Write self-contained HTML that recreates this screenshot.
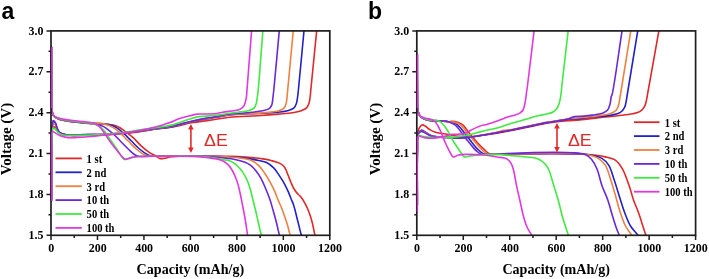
<!DOCTYPE html>
<html><head><meta charset="utf-8"><style>
html,body{margin:0;padding:0;background:#fff;}
body{width:709px;height:279px;overflow:hidden;}
svg{display:block;filter:blur(0.3px);}
</style></head><body>
<svg width="709" height="279" viewBox="0 0 709 279">
<clipPath id="clipa"><rect x="50.00" y="30.90" width="279.80" height="204.40"/></clipPath>
<g clip-path="url(#clipa)" fill="none" stroke-width="1.6" stroke-linejoin="round" stroke-linecap="round">
<path d="M51.50 47.30C51.53 61.53 51.47 78.43 51.60 90.00C51.69 97.92 51.44 105.53 52.00 110.00C52.29 112.30 52.54 113.89 53.20 115.15C53.67 116.05 54.19 116.52 55.00 117.14C56.11 118.00 57.87 118.91 59.50 119.50C61.25 120.13 63.30 120.35 65.20 120.70C67.10 121.05 68.99 121.33 70.90 121.60C72.82 121.87 74.77 122.08 76.70 122.30C78.61 122.52 80.51 122.72 82.40 122.90C84.27 123.08 85.56 123.23 88.00 123.40C92.61 123.72 102.89 123.85 108.00 124.40C111.21 124.75 113.59 124.98 115.80 125.70C117.58 126.28 118.78 127.01 120.40 128.00C122.41 129.23 124.69 131.09 126.80 132.70C128.92 134.32 130.94 135.76 133.10 137.70C135.68 140.01 138.35 143.32 141.10 145.80C143.73 148.17 146.58 150.55 149.20 152.30C151.39 153.76 153.72 154.67 155.60 155.80C157.14 156.73 158.21 158.09 159.70 158.50C161.18 158.91 162.86 158.53 164.50 158.30C166.28 158.05 167.88 157.33 170.00 157.00C172.82 156.56 176.09 156.38 180.00 156.20C185.52 155.95 192.66 156.00 200.00 156.00C208.99 156.00 221.72 156.04 230.00 156.30C235.86 156.49 239.78 156.70 245.00 157.10C250.71 157.54 257.96 158.16 262.90 158.90C266.43 159.43 269.01 159.93 271.90 160.70C274.67 161.44 277.70 162.20 279.90 163.40C281.72 164.39 283.14 165.37 284.40 167.00C285.96 169.01 286.88 172.36 288.00 175.00C289.07 177.53 290.02 180.20 291.00 182.50C291.85 184.49 292.55 186.29 293.50 188.00C294.40 189.61 295.39 191.14 296.50 192.50C297.56 193.80 298.95 194.83 300.00 196.00C300.96 197.07 301.80 198.02 302.60 199.20C303.48 200.49 304.21 202.00 305.00 203.50C305.84 205.09 306.71 206.70 307.50 208.50C308.38 210.51 309.22 212.69 310.00 215.00C310.86 217.56 311.65 220.18 312.40 223.20C313.30 226.83 314.07 231.27 314.90 235.30" stroke="#e02828"/>
<path d="M51.60 200.00C51.63 183.33 51.52 162.71 51.70 150.00C51.81 142.16 51.52 134.95 52.20 131.00C52.52 129.14 52.76 127.41 53.50 127.00C54.02 126.71 54.87 127.07 55.50 127.50C56.41 128.12 57.08 129.91 58.00 131.00C58.91 132.08 59.76 133.29 61.00 134.00C62.37 134.78 64.07 135.02 66.00 135.30C68.55 135.67 71.72 135.60 75.00 135.60C78.94 135.61 83.75 135.30 88.00 135.20C92.08 135.10 95.71 135.14 100.00 135.00C104.95 134.83 110.67 134.60 116.00 134.20C121.34 133.80 126.52 133.27 132.00 132.60C137.83 131.89 144.88 130.78 150.00 130.00C153.82 129.42 156.47 128.88 160.00 128.40C163.93 127.87 167.93 127.76 172.50 127.00C178.17 126.05 185.09 123.94 191.40 122.80C197.65 121.67 203.86 121.12 210.20 120.20C216.72 119.26 222.85 117.94 230.00 117.20C238.35 116.34 248.75 116.25 257.30 115.70C264.90 115.21 272.44 114.66 278.80 114.10C283.88 113.65 288.45 113.36 292.50 112.70C295.77 112.16 298.82 111.59 301.30 110.70C303.25 110.00 305.04 109.40 306.30 108.20C307.50 107.06 308.18 105.45 308.80 103.80C309.50 101.94 309.77 99.70 310.10 97.50C310.46 95.12 310.44 93.69 310.80 90.00C311.80 79.62 314.73 50.40 316.70 30.60" stroke="#e02828"/>
<path d="M51.50 47.30C51.53 61.53 51.47 78.43 51.60 90.00C51.69 97.92 51.44 105.54 52.00 110.00C52.29 112.29 52.54 113.89 53.20 115.13C53.67 116.01 54.20 116.46 55.00 117.06C56.11 117.89 57.87 118.73 59.50 119.30C61.25 119.91 63.30 120.15 65.20 120.50C67.10 120.85 68.99 121.13 70.90 121.40C72.82 121.67 74.77 121.88 76.70 122.10C78.61 122.32 80.51 122.52 82.40 122.70C84.27 122.88 85.65 123.05 88.00 123.20C91.96 123.45 99.54 123.27 104.00 123.80C107.27 124.19 109.93 124.58 112.40 125.50C114.55 126.30 116.28 127.45 118.10 128.70C119.99 130.00 121.57 131.45 123.50 133.20C125.93 135.40 128.75 138.38 131.40 141.00C134.08 143.65 136.70 146.66 139.50 149.00C142.11 151.18 145.35 153.58 147.60 154.70C149.01 155.40 149.86 155.64 151.30 155.90C153.18 156.24 154.81 156.13 158.00 156.20C165.99 156.38 187.18 156.07 200.00 156.20C210.84 156.31 221.72 156.36 230.00 156.80C235.86 157.11 240.43 157.52 245.00 158.10C248.88 158.59 252.14 159.17 255.70 159.90C259.30 160.64 263.39 161.04 266.50 162.50C269.30 163.82 271.61 165.80 273.70 167.90C275.78 170.00 277.34 172.68 279.00 175.10C280.60 177.45 282.06 179.65 283.50 182.20C285.07 184.99 286.63 188.19 288.00 191.20C289.33 194.12 290.58 197.48 291.60 200.00C292.37 201.90 292.90 202.86 293.60 205.00C294.79 208.63 296.22 214.97 297.50 220.00C298.79 225.07 300.03 230.20 301.30 235.30" stroke="#2222c6"/>
<path d="M51.60 200.00C51.63 183.33 51.54 163.29 51.70 150.00C51.81 141.18 51.72 133.20 52.20 128.00C52.47 125.11 52.50 121.58 53.30 121.30C53.82 121.12 54.81 122.30 55.40 123.20C56.23 124.47 56.46 126.99 57.20 128.60C57.86 130.02 58.34 131.43 59.50 132.40C60.86 133.54 63.27 134.12 65.20 134.60C67.07 135.07 68.77 135.18 70.90 135.30C73.58 135.45 77.07 135.29 80.00 135.20C82.75 135.12 85.06 134.87 88.00 134.80C91.59 134.71 95.71 134.91 100.00 134.80C104.95 134.68 110.67 134.42 116.00 134.00C121.34 133.58 126.52 133.00 132.00 132.30C137.83 131.55 143.66 130.50 150.00 129.60C157.08 128.60 165.36 127.98 172.50 126.60C179.11 125.32 185.73 123.09 191.40 121.80C195.98 120.76 199.72 120.05 203.90 119.30C208.08 118.55 212.23 118.00 216.50 117.30C220.92 116.57 225.04 115.57 230.00 115.00C236.00 114.31 243.51 114.14 250.00 113.80C256.16 113.48 262.61 113.34 268.00 113.00C272.41 112.72 276.48 112.45 280.00 112.00C282.80 111.64 285.14 111.36 287.50 110.70C289.73 110.07 292.31 109.50 293.80 108.20C295.09 107.08 295.69 105.45 296.30 103.80C296.98 101.94 297.16 99.70 297.50 97.50C297.87 95.11 298.00 93.69 298.40 90.00C299.51 79.62 302.13 50.40 304.00 30.60" stroke="#2222c6"/>
<path d="M51.50 47.30C51.53 61.53 51.47 78.43 51.60 90.00C51.69 97.92 51.44 105.54 52.00 110.00C52.29 112.29 52.54 113.88 53.20 115.12C53.67 115.99 54.20 116.43 55.00 117.02C56.11 117.83 57.87 118.64 59.50 119.20C61.25 119.80 63.30 120.05 65.20 120.40C67.10 120.75 68.99 121.03 70.90 121.30C72.82 121.57 74.77 121.78 76.70 122.00C78.61 122.22 80.51 122.42 82.40 122.60C84.27 122.78 85.78 122.97 88.00 123.10C91.24 123.29 96.32 122.93 100.00 123.40C103.21 123.81 106.32 124.57 108.90 125.50C111.03 126.27 112.65 127.08 114.50 128.30C116.62 129.69 118.66 131.64 120.80 133.60C123.21 135.82 125.67 138.49 128.20 141.00C130.84 143.62 133.69 146.73 136.30 149.00C138.50 150.91 140.82 152.75 142.70 153.90C144.02 154.71 144.93 155.22 146.30 155.60C147.95 156.06 149.17 156.05 152.00 156.20C160.20 156.63 185.87 156.01 200.00 156.20C211.17 156.35 221.73 156.39 230.00 157.00C235.87 157.43 240.93 158.02 245.00 158.80C247.86 159.35 249.91 159.58 252.20 160.70C254.70 161.92 257.22 164.01 259.30 166.10C261.39 168.20 262.96 170.73 264.70 173.30C266.57 176.07 268.44 179.19 270.10 182.20C271.73 185.16 273.25 188.19 274.60 191.20C275.91 194.12 276.94 197.24 278.10 200.00C279.14 202.48 280.19 204.50 281.20 207.00C282.33 209.79 283.45 212.99 284.50 216.00C285.55 218.99 286.59 221.88 287.50 225.00C288.47 228.30 289.23 231.87 290.10 235.30" stroke="#ee8040"/>
<path d="M51.60 200.00C51.63 183.33 51.53 163.11 51.70 150.00C51.81 141.50 51.60 133.57 52.20 129.00C52.49 126.74 52.60 124.39 53.40 124.00C53.95 123.73 54.99 124.37 55.60 125.00C56.47 125.90 56.74 128.13 57.50 129.50C58.22 130.78 58.80 132.12 60.00 133.00C61.46 134.06 63.77 134.52 66.00 134.90C68.67 135.36 71.73 135.21 75.00 135.20C78.94 135.19 83.75 134.80 88.00 134.70C92.08 134.60 95.71 134.71 100.00 134.60C104.95 134.47 110.67 134.32 116.00 133.90C121.34 133.48 126.52 132.82 132.00 132.10C137.83 131.34 143.66 130.33 150.00 129.40C157.08 128.37 165.36 127.59 172.50 126.20C179.11 124.91 185.74 122.77 191.40 121.50C195.98 120.47 199.72 119.77 203.90 119.00C208.09 118.23 212.23 117.62 216.50 116.90C220.92 116.15 224.70 115.17 230.00 114.60C237.49 113.80 250.30 113.88 257.30 113.40C261.69 113.10 264.43 112.83 268.00 112.40C271.60 111.97 275.89 111.73 278.80 110.80C280.94 110.12 282.85 109.45 284.10 108.10C285.33 106.77 285.79 104.76 286.30 102.80C286.89 100.53 286.95 97.49 287.20 95.20C287.40 93.30 287.45 92.68 287.70 90.00C288.56 80.96 291.43 50.40 293.30 30.60" stroke="#ee8040"/>
<path d="M51.50 47.30C51.53 61.53 51.47 78.43 51.60 90.00C51.69 97.92 51.44 105.54 52.00 110.00C52.29 112.28 52.53 113.88 53.20 115.11C53.67 115.97 54.20 116.40 55.00 116.97C56.11 117.77 57.88 118.55 59.50 119.10C61.26 119.69 63.30 119.95 65.20 120.30C67.10 120.65 68.99 120.93 70.90 121.20C72.82 121.47 74.77 121.68 76.70 121.90C78.61 122.12 80.51 122.32 82.40 122.50C84.27 122.68 85.89 122.72 88.00 123.00C90.76 123.37 94.75 124.02 97.50 124.67C99.66 125.19 101.37 125.52 103.20 126.40C105.18 127.35 107.04 128.89 108.90 130.30C110.81 131.75 112.68 133.30 114.50 135.00C116.41 136.79 118.06 138.71 120.10 140.80C122.55 143.30 125.61 146.56 128.20 149.00C130.45 151.12 132.70 153.47 134.70 154.70C136.11 155.57 136.99 155.98 138.70 156.30C141.47 156.82 144.89 156.22 150.00 156.20C160.74 156.16 187.09 155.90 200.00 156.30C208.17 156.55 213.96 156.93 220.00 157.50C225.03 157.98 229.47 158.44 233.80 159.30C237.76 160.08 241.99 161.11 245.00 162.30C247.18 163.17 248.70 163.92 250.40 165.20C252.29 166.62 254.02 168.53 255.70 170.60C257.61 172.95 259.48 175.80 261.10 178.70C262.80 181.75 264.15 185.08 265.60 188.50C267.15 192.16 268.83 196.27 270.10 200.00C271.26 203.42 272.05 206.66 273.00 210.00C273.95 213.33 274.85 216.30 275.80 220.00C276.97 224.55 278.20 230.20 279.40 235.30" stroke="#6a28d8"/>
<path d="M51.60 200.00C51.63 183.33 51.54 163.47 51.70 150.00C51.81 140.86 51.73 132.28 52.20 127.00C52.45 124.20 52.42 120.87 53.20 120.60C53.73 120.41 54.79 121.65 55.40 122.60C56.26 123.94 56.46 126.59 57.20 128.30C57.86 129.82 58.31 131.38 59.50 132.40C60.85 133.55 63.27 134.03 65.20 134.50C67.07 134.95 68.99 135.10 70.90 135.20C72.82 135.30 74.78 135.20 76.70 135.10C78.61 135.00 80.51 134.75 82.40 134.60C84.27 134.45 85.78 134.26 88.00 134.20C91.25 134.11 95.71 134.47 100.00 134.40C104.95 134.32 110.67 134.03 116.00 133.60C121.34 133.17 126.52 132.50 132.00 131.80C137.83 131.05 143.67 130.11 150.00 129.20C157.08 128.18 165.36 127.41 172.50 126.00C179.11 124.69 185.74 122.51 191.40 121.20C195.98 120.14 199.72 119.37 203.90 118.60C208.08 117.83 212.23 117.35 216.50 116.60C220.93 115.82 225.70 114.57 230.00 114.00C233.87 113.49 237.43 113.50 241.10 113.20C244.73 112.90 248.31 112.60 251.90 112.20C255.48 111.80 259.50 111.50 262.60 110.80C265.06 110.25 267.52 109.86 269.10 108.70C270.40 107.74 271.18 106.42 271.80 104.90C272.53 103.11 272.49 100.79 272.80 98.50C273.16 95.87 273.37 94.12 273.80 90.00C274.94 79.14 277.47 50.40 279.30 30.60" stroke="#6a28d8"/>
<path d="M51.50 47.30C51.53 61.53 51.47 78.43 51.60 90.00C51.69 97.92 51.44 105.55 52.00 110.00C52.29 112.27 52.53 113.87 53.20 115.07C53.67 115.90 54.20 116.31 55.00 116.85C56.11 117.60 57.88 118.29 59.50 118.80C61.26 119.36 63.30 119.65 65.20 120.00C67.10 120.35 68.99 120.63 70.90 120.90C72.82 121.17 74.77 121.38 76.70 121.60C78.61 121.82 80.51 122.02 82.40 122.20C84.27 122.38 86.29 122.48 88.00 122.70C89.45 122.89 90.65 123.08 92.00 123.40C93.42 123.73 94.95 124.11 96.30 124.67C97.61 125.22 98.76 125.76 100.00 126.70C101.58 127.90 103.25 129.71 104.80 131.60C106.60 133.79 108.13 136.50 110.00 139.20C112.15 142.31 114.65 145.85 117.00 149.20C119.38 152.59 122.12 158.67 124.20 159.40C125.21 159.75 125.89 158.90 127.00 158.60C128.62 158.17 130.91 157.45 133.00 157.10C135.23 156.73 137.06 156.64 140.00 156.50C144.95 156.26 152.19 156.33 160.00 156.30C171.05 156.26 189.58 155.82 200.00 156.40C206.71 156.77 212.07 157.49 216.50 158.20C219.53 158.68 221.72 159.33 224.10 159.80C226.19 160.21 228.17 160.22 230.00 160.90C231.80 161.57 233.40 162.58 235.00 163.80C236.78 165.15 238.60 167.07 240.10 168.80C241.50 170.41 242.63 171.91 243.80 173.80C245.16 176.00 246.50 178.66 247.60 181.30C248.75 184.05 249.62 186.98 250.50 190.00C251.43 193.20 252.17 196.67 253.00 200.00C253.83 203.33 254.67 206.51 255.50 210.00C256.41 213.81 257.26 217.90 258.20 222.00C259.19 226.32 260.27 230.87 261.30 235.30" stroke="#40ea40"/>
<path d="M51.60 200.00C51.63 183.33 51.52 162.71 51.70 150.00C51.81 142.16 51.56 134.53 52.20 131.00C52.46 129.58 52.64 128.33 53.20 128.10C53.65 127.92 54.41 128.55 55.00 129.00C55.75 129.58 56.44 130.72 57.20 131.50C57.94 132.25 58.49 133.02 59.50 133.60C60.88 134.39 62.68 134.95 65.00 135.30C68.74 135.86 74.64 135.39 80.00 135.30C86.19 135.19 93.71 135.00 100.00 134.60C105.64 134.24 110.67 133.67 116.00 133.10C121.34 132.53 126.52 131.95 132.00 131.20C137.83 130.40 143.67 129.39 150.00 128.40C157.08 127.30 166.14 126.47 172.50 124.90C177.37 123.70 180.89 121.94 185.10 120.60C189.26 119.27 194.11 117.60 197.60 116.90C200.03 116.41 201.46 116.43 203.90 116.20C207.28 115.89 211.73 115.78 216.00 115.30C220.86 114.76 226.94 113.60 231.50 113.00C235.08 112.53 238.00 112.37 241.10 111.90C244.05 111.46 247.37 111.09 249.70 110.30C251.43 109.71 252.92 109.18 254.00 108.10C255.08 107.02 255.66 105.42 256.20 103.80C256.83 101.92 256.98 99.61 257.30 97.40C257.65 95.03 257.83 93.65 258.20 90.00C259.24 79.67 261.33 50.40 262.90 30.60" stroke="#40ea40"/>
<path d="M51.50 47.30C51.53 61.53 51.47 78.43 51.60 90.00C51.69 97.92 51.43 105.58 52.00 110.00C52.29 112.24 52.52 113.86 53.20 115.00C53.67 115.78 54.21 116.13 55.00 116.60C56.12 117.26 57.90 117.75 59.50 118.20C61.27 118.70 63.30 119.05 65.20 119.40C67.10 119.75 68.99 120.03 70.90 120.30C72.82 120.57 74.77 120.78 76.70 121.00C78.61 121.22 80.51 121.42 82.40 121.60C84.27 121.78 86.29 121.90 88.00 122.10C89.45 122.27 90.66 122.35 92.00 122.70C93.43 123.07 94.97 123.56 96.30 124.30C97.64 125.05 98.82 126.00 100.00 127.20C101.41 128.63 102.58 130.48 104.00 132.50C105.79 135.04 107.76 138.48 109.80 141.30C111.80 144.07 113.99 146.67 116.10 149.30C118.19 151.90 120.60 155.22 122.40 157.00C123.52 158.10 124.33 159.15 125.40 159.40C126.37 159.62 127.38 159.01 128.50 158.70C129.87 158.32 131.31 157.56 133.00 157.20C135.06 156.76 137.06 156.66 140.00 156.50C144.95 156.23 152.41 156.33 160.00 156.30C170.04 156.26 186.17 155.98 195.00 156.40C200.39 156.66 204.13 157.10 208.00 157.60C211.14 158.00 213.93 158.43 216.50 159.00C218.69 159.49 220.65 159.84 222.50 160.70C224.32 161.55 226.03 162.75 227.50 164.10C228.97 165.45 230.12 166.98 231.30 168.80C232.69 170.95 233.97 173.67 235.10 176.30C236.28 179.06 237.32 181.97 238.20 185.00C239.13 188.19 239.78 191.66 240.50 195.00C241.22 198.33 241.79 201.33 242.50 205.00C243.37 209.49 244.45 214.97 245.30 220.00C246.15 225.07 246.83 230.20 247.60 235.30" stroke="#e238e2"/>
<path d="M51.60 201.00C51.63 184.00 51.58 162.78 51.70 150.00C51.77 142.30 50.30 132.66 52.00 131.50C52.70 131.03 53.85 132.08 54.90 132.60C56.29 133.29 57.83 134.76 59.50 135.50C61.25 136.28 63.28 136.73 65.20 137.10C67.08 137.46 68.99 137.63 70.90 137.70C72.82 137.77 74.45 137.62 76.70 137.50C79.85 137.33 84.18 137.03 88.00 136.70C91.94 136.36 95.71 135.94 100.00 135.50C104.95 134.99 110.67 134.42 116.00 133.80C121.34 133.18 126.68 132.63 132.00 131.80C137.35 130.97 143.07 129.90 148.00 128.80C152.30 127.84 156.19 126.78 160.00 125.70C163.50 124.71 166.80 123.78 170.00 122.60C173.06 121.47 175.83 119.86 178.80 118.80C181.70 117.77 184.56 117.07 187.60 116.30C190.82 115.49 194.63 114.45 197.60 114.10C199.93 113.83 201.44 114.07 203.90 114.00C207.38 113.90 212.73 113.93 216.50 113.50C219.63 113.15 222.15 112.35 225.00 111.90C227.85 111.45 230.95 111.29 233.60 110.80C235.93 110.37 238.32 110.12 240.10 109.20C241.62 108.41 242.91 107.28 243.80 106.00C244.66 104.76 244.96 103.23 245.40 101.70C245.88 100.02 246.24 98.18 246.50 96.30C246.78 94.29 246.75 93.17 247.00 90.00C247.76 80.27 250.07 50.40 251.60 30.60" stroke="#e238e2"/>
</g>
<rect x="51.00" y="30.90" width="278.80" height="204.40" fill="none" stroke="#1e1e1e" stroke-width="1.7"/>
<path d="M46.50 30.90H51.00M48.50 51.34H51.00M46.50 71.78H51.00M48.50 92.22H51.00M46.50 112.66H51.00M48.50 133.10H51.00M46.50 153.54H51.00M48.50 173.98H51.00M46.50 194.42H51.00M48.50 214.86H51.00M46.50 235.30H51.00M51.00 235.30V240.10M74.23 235.30V237.90M97.47 235.30V240.10M120.70 235.30V237.90M143.93 235.30V240.10M167.17 235.30V237.90M190.40 235.30V240.10M213.63 235.30V237.90M236.87 235.30V240.10M260.10 235.30V237.90M283.33 235.30V240.10M306.57 235.30V237.90M329.80 235.30V240.10" stroke="#1e1e1e" stroke-width="1.5" fill="none"/>
<path d="M51.60 201.00V131.50M51.60 47.30V108.00" stroke="#e238e2" stroke-width="1.3" stroke-opacity="0.8" fill="none"/>
<text transform="translate(43.40,34.50) scale(0.95,1)" x="0" y="0" text-anchor="end" style="font-family:'Liberation Serif',serif;font-weight:bold;font-size:12.6px">3.0</text>
<text transform="translate(43.40,75.38) scale(0.95,1)" x="0" y="0" text-anchor="end" style="font-family:'Liberation Serif',serif;font-weight:bold;font-size:12.6px">2.7</text>
<text transform="translate(43.40,116.26) scale(0.95,1)" x="0" y="0" text-anchor="end" style="font-family:'Liberation Serif',serif;font-weight:bold;font-size:12.6px">2.4</text>
<text transform="translate(43.40,157.14) scale(0.95,1)" x="0" y="0" text-anchor="end" style="font-family:'Liberation Serif',serif;font-weight:bold;font-size:12.6px">2.1</text>
<text transform="translate(43.40,198.02) scale(0.95,1)" x="0" y="0" text-anchor="end" style="font-family:'Liberation Serif',serif;font-weight:bold;font-size:12.6px">1.8</text>
<text transform="translate(43.40,238.90) scale(0.95,1)" x="0" y="0" text-anchor="end" style="font-family:'Liberation Serif',serif;font-weight:bold;font-size:12.6px">1.5</text>
<text transform="translate(51.20,251.9) scale(0.95,1)" x="0" y="0" text-anchor="middle" style="font-family:'Liberation Serif',serif;font-weight:bold;font-size:12.6px">0</text>
<text transform="translate(97.67,251.9) scale(0.95,1)" x="0" y="0" text-anchor="middle" style="font-family:'Liberation Serif',serif;font-weight:bold;font-size:12.6px">200</text>
<text transform="translate(144.13,251.9) scale(0.95,1)" x="0" y="0" text-anchor="middle" style="font-family:'Liberation Serif',serif;font-weight:bold;font-size:12.6px">400</text>
<text transform="translate(190.60,251.9) scale(0.95,1)" x="0" y="0" text-anchor="middle" style="font-family:'Liberation Serif',serif;font-weight:bold;font-size:12.6px">600</text>
<text transform="translate(237.07,251.9) scale(0.95,1)" x="0" y="0" text-anchor="middle" style="font-family:'Liberation Serif',serif;font-weight:bold;font-size:12.6px">800</text>
<text transform="translate(283.53,251.9) scale(0.95,1)" x="0" y="0" text-anchor="middle" style="font-family:'Liberation Serif',serif;font-weight:bold;font-size:12.6px">1000</text>
<text transform="translate(330.00,251.9) scale(0.95,1)" x="0" y="0" text-anchor="middle" style="font-family:'Liberation Serif',serif;font-weight:bold;font-size:12.6px">1200</text>
<text transform="translate(190.40,274.2) scale(0.94,1)" x="0" y="0" text-anchor="middle" style="font-family:'Liberation Serif',serif;font-weight:bold;font-size:15px">Capacity (mAh/g)</text>
<text transform="translate(11.00,139) rotate(-90)" x="0" y="0" text-anchor="middle" style="font-family:'Liberation Serif',serif;font-weight:bold;font-size:15px">Voltage (V)</text>
<text x="1.5" y="19.0" style="font-family:'Liberation Sans',sans-serif;font-weight:bold;font-size:23px">a</text>
<path d="M55.50 158.40H81.80" stroke="#e02828" stroke-width="1.8"/>
<text transform="translate(86.60,162.70) scale(0.92,1)" x="0" y="0" style="font-family:'Liberation Serif',serif;font-weight:bold;font-size:11.5px">1 st</text>
<path d="M55.50 172.30H81.80" stroke="#2222c6" stroke-width="1.8"/>
<text transform="translate(86.60,176.60) scale(0.92,1)" x="0" y="0" style="font-family:'Liberation Serif',serif;font-weight:bold;font-size:11.5px">2 nd</text>
<path d="M55.50 186.20H81.80" stroke="#ee8040" stroke-width="1.8"/>
<text transform="translate(86.60,190.50) scale(0.92,1)" x="0" y="0" style="font-family:'Liberation Serif',serif;font-weight:bold;font-size:11.5px">3 rd</text>
<path d="M55.50 200.10H81.80" stroke="#6a28d8" stroke-width="1.8"/>
<text transform="translate(86.60,204.40) scale(0.92,1)" x="0" y="0" style="font-family:'Liberation Serif',serif;font-weight:bold;font-size:11.5px">10 th</text>
<path d="M55.50 214.00H81.80" stroke="#40ea40" stroke-width="1.8"/>
<text transform="translate(86.60,218.30) scale(0.92,1)" x="0" y="0" style="font-family:'Liberation Serif',serif;font-weight:bold;font-size:11.5px">50 th</text>
<path d="M55.50 227.90H81.80" stroke="#e238e2" stroke-width="1.8"/>
<text transform="translate(86.60,232.20) scale(0.92,1)" x="0" y="0" style="font-family:'Liberation Serif',serif;font-weight:bold;font-size:11.5px">100 th</text>
<path d="M190.90 128.00V149.00" stroke="#e02a2a" stroke-width="1.6"/>
<path d="M190.90 124.00L188.10 129.50L193.70 129.50Z M190.90 153.00L188.10 147.50L193.70 147.50Z" fill="#e02a2a"/>
<text transform="translate(204.10,145.50) scale(1.08,1)" x="0" y="0" style="font-family:'Liberation Sans',sans-serif;font-size:16.5px;fill:#e02828">ΔE</text>
<clipPath id="clipb"><rect x="415.80" y="30.90" width="279.80" height="204.40"/></clipPath>
<g clip-path="url(#clipb)" fill="none" stroke-width="1.6" stroke-linejoin="round" stroke-linecap="round">
<path d="M417.30 54.60C417.33 68.07 417.25 84.80 417.40 95.00C417.49 101.21 417.24 106.42 417.80 110.00C418.12 112.05 418.57 113.50 419.20 114.75C419.67 115.70 420.10 116.32 420.90 117.02C421.99 117.98 423.83 118.97 425.50 119.60C427.25 120.26 429.29 120.59 431.20 120.80C433.09 121.01 434.99 120.84 436.90 120.87C438.83 120.91 440.78 120.84 442.70 121.00C444.61 121.15 446.72 121.78 448.40 121.80C449.74 121.82 450.64 121.35 452.00 121.40C453.79 121.47 456.33 121.96 458.20 122.60C459.89 123.17 461.44 123.82 462.80 124.90C464.27 126.07 465.24 127.79 466.60 129.50C468.26 131.58 470.10 134.20 472.00 136.50C473.96 138.87 476.10 141.27 478.20 143.50C480.23 145.66 482.45 147.92 484.40 149.70C486.01 151.16 487.48 152.75 489.00 153.50C490.18 154.08 491.10 154.16 492.50 154.30C494.52 154.50 496.14 154.15 500.00 154.10C512.98 153.94 566.39 153.10 585.00 154.30C594.15 154.89 599.82 155.63 605.40 156.90C609.44 157.82 612.77 158.33 615.60 160.30C618.45 162.28 620.36 165.30 622.40 168.80C625.05 173.34 627.29 180.35 629.20 185.80C630.92 190.71 632.00 195.71 633.50 200.00C634.78 203.66 636.40 207.11 637.50 210.00C638.33 212.19 638.87 213.64 639.60 215.80C640.52 218.51 641.49 221.87 642.50 225.00C643.55 228.27 644.70 231.67 645.80 235.00" stroke="#e02828"/>
<path d="M417.30 205.00C417.33 186.67 417.14 163.57 417.40 150.00C417.55 142.02 417.06 135.14 418.10 131.00C418.64 128.83 419.47 127.34 420.40 126.30C421.05 125.57 421.80 124.95 422.60 124.90C423.49 124.85 424.47 125.67 425.50 126.30C426.83 127.12 428.21 128.64 429.80 129.60C431.51 130.63 433.56 131.56 435.50 132.20C437.37 132.81 439.29 133.07 441.20 133.40C443.12 133.73 444.92 133.85 447.00 134.20C449.46 134.62 452.03 135.34 455.00 135.80C458.67 136.37 463.05 137.24 467.40 137.20C472.26 137.16 477.77 135.90 482.80 135.20C487.63 134.53 492.36 133.85 497.00 133.10C501.49 132.38 505.68 131.65 510.20 130.80C515.00 129.90 520.46 128.76 525.00 127.80C528.89 126.97 532.21 126.17 535.80 125.40C539.37 124.64 542.92 123.83 546.50 123.20C550.08 122.57 553.70 122.03 557.30 121.60C560.87 121.17 564.33 120.88 568.00 120.60C571.88 120.31 575.56 120.30 580.00 119.90C585.57 119.40 592.53 118.30 598.80 117.60C605.06 116.90 611.68 116.37 617.60 115.70C622.91 115.10 628.58 114.74 632.70 113.80C635.67 113.12 638.17 112.65 640.20 111.30C642.06 110.06 643.55 108.19 644.60 106.30C645.64 104.42 646.00 102.11 646.50 100.00C646.99 97.94 647.27 95.61 647.60 93.80C647.86 92.38 647.93 92.02 648.30 90.00C649.75 82.01 655.37 50.40 658.90 30.60" stroke="#e02828"/>
<path d="M417.30 54.60C417.33 68.07 417.25 84.80 417.40 95.00C417.49 101.21 417.23 106.43 417.80 110.00C418.12 112.05 418.57 113.49 419.20 114.73C419.67 115.66 420.10 116.26 420.90 116.94C422.00 117.87 423.84 118.79 425.50 119.40C427.26 120.04 429.29 120.37 431.20 120.60C433.09 120.83 434.99 120.70 436.90 120.77C438.83 120.84 440.78 120.83 442.70 121.00C444.61 121.17 446.72 121.50 448.40 121.80C449.74 122.04 450.74 122.25 452.00 122.60C453.45 123.00 455.16 123.22 456.60 124.10C458.26 125.12 459.71 127.01 461.20 128.70C462.82 130.54 464.23 132.65 465.90 134.80C467.80 137.24 469.92 140.10 472.00 142.60C474.02 145.03 476.22 147.68 478.20 149.60C479.79 151.13 481.33 152.63 482.80 153.40C483.90 153.98 484.54 154.11 486.00 154.30C489.00 154.69 493.36 154.14 500.00 154.10C516.36 154.00 567.56 152.21 585.00 154.30C592.91 155.25 597.84 156.03 602.00 158.40C605.11 160.17 606.93 162.44 608.80 165.40C611.09 169.01 612.16 173.95 613.90 179.00C616.04 185.22 618.51 193.84 620.50 200.00C622.07 204.86 623.15 208.70 624.80 213.00C626.48 217.37 628.18 222.20 630.50 226.00C632.59 229.43 635.37 232.00 637.80 235.00" stroke="#2222c6"/>
<path d="M417.30 205.00C417.33 186.67 417.04 163.05 417.40 150.00C417.60 142.78 416.90 136.40 418.30 133.20C418.99 131.61 420.15 130.46 421.20 130.20C422.08 129.98 423.00 130.62 424.00 131.10C425.32 131.74 426.84 133.15 428.30 134.00C429.71 134.81 430.93 135.62 432.60 136.10C434.65 136.69 437.20 136.69 439.80 136.90C442.86 137.15 446.63 137.20 449.80 137.40C452.67 137.58 455.17 137.99 458.00 138.00C461.03 138.01 463.89 137.76 467.40 137.40C471.91 136.93 477.78 135.98 482.80 135.20C487.63 134.45 492.36 133.63 497.00 132.80C501.48 132.00 505.68 131.20 510.20 130.30C515.00 129.34 520.46 128.16 525.00 127.20C528.88 126.38 532.21 125.65 535.80 124.90C539.37 124.15 542.92 123.35 546.50 122.70C550.08 122.05 553.71 121.57 557.30 121.00C560.88 120.43 564.32 119.70 568.00 119.30C571.88 118.88 575.97 118.98 580.00 118.60C584.13 118.22 587.91 117.53 592.50 117.00C598.13 116.36 606.24 116.07 611.30 115.10C614.82 114.43 617.82 114.04 620.10 112.60C622.04 111.37 623.46 109.59 624.50 107.60C625.63 105.44 625.93 102.28 626.40 100.00C626.77 98.17 626.78 97.61 627.20 95.00C628.72 85.64 634.27 52.07 637.80 30.60" stroke="#2222c6"/>
<path d="M417.30 54.60C417.33 68.07 417.25 84.80 417.40 95.00C417.49 101.21 417.23 106.43 417.80 110.00C418.12 112.04 418.57 113.49 419.20 114.72C419.67 115.64 420.10 116.23 420.90 116.90C422.00 117.81 423.84 118.71 425.50 119.30C427.26 119.93 429.29 120.26 431.20 120.50C433.09 120.73 434.99 120.63 436.90 120.72C438.83 120.80 440.78 120.82 442.70 121.00C444.61 121.18 446.71 121.64 448.40 121.80C449.73 121.93 450.65 121.81 452.00 122.00C453.80 122.25 456.38 122.51 458.20 123.40C459.96 124.27 461.35 125.68 462.80 127.20C464.45 128.93 465.70 131.31 467.40 133.40C469.27 135.70 471.55 138.06 473.60 140.40C475.65 142.73 477.69 145.25 479.70 147.40C481.52 149.35 483.40 151.64 485.10 152.80C486.28 153.61 486.99 153.99 488.50 154.30C491.16 154.84 494.39 154.14 500.00 154.10C515.24 153.99 568.92 151.80 585.00 154.30C591.59 155.32 595.04 156.44 598.60 158.60C601.52 160.38 603.53 162.50 605.40 165.40C607.70 168.97 608.88 174.19 610.50 179.00C612.29 184.32 614.04 190.60 615.60 196.00C617.01 200.89 617.98 205.28 619.50 210.00C621.09 214.95 622.80 220.61 625.00 225.00C626.90 228.79 629.33 231.67 631.50 235.00" stroke="#ee8040"/>
<path d="M417.30 205.00C417.33 186.67 417.03 162.95 417.40 150.00C417.60 142.92 416.93 136.59 418.30 133.60C418.96 132.17 420.00 131.26 421.00 131.00C421.91 130.76 422.94 131.35 424.00 131.80C425.34 132.37 426.85 133.62 428.30 134.40C429.71 135.15 430.94 135.95 432.60 136.40C434.65 136.96 437.19 136.91 439.80 137.10C442.90 137.33 446.81 137.44 450.00 137.60C452.83 137.74 455.23 138.05 458.00 138.00C461.01 137.95 463.89 137.62 467.40 137.20C471.91 136.66 477.78 135.65 482.80 134.80C487.63 133.98 493.12 133.06 497.00 132.20C499.72 131.60 501.64 130.80 503.90 130.40C506.03 130.02 507.67 130.18 510.20 129.80C514.11 129.22 520.45 127.72 525.00 126.80C528.88 126.01 532.21 125.33 535.80 124.60C539.38 123.87 542.92 123.03 546.50 122.40C550.08 121.77 553.71 121.40 557.30 120.80C560.88 120.20 564.32 119.30 568.00 118.80C571.87 118.28 575.56 118.23 580.00 117.80C585.57 117.26 593.34 116.46 598.80 115.70C603.05 115.11 606.97 114.94 610.10 113.80C612.60 112.89 614.93 111.82 616.40 110.10C617.82 108.45 618.29 106.03 618.90 103.80C619.55 101.44 619.81 97.77 620.10 96.30C620.22 95.69 620.25 95.76 620.40 95.00C621.45 89.66 627.33 52.07 630.80 30.60" stroke="#ee8040"/>
<path d="M417.30 54.60C417.33 68.07 417.25 84.80 417.40 95.00C417.49 101.21 417.23 106.44 417.80 110.00C418.12 112.04 418.57 113.48 419.20 114.70C419.67 115.62 420.10 116.20 420.90 116.86C422.00 117.76 423.84 118.62 425.50 119.20C427.26 119.82 429.29 120.16 431.20 120.40C433.09 120.64 434.99 120.57 436.90 120.67C438.83 120.77 440.78 120.81 442.70 121.00C444.61 121.19 446.74 121.35 448.40 121.80C449.76 122.17 450.80 122.70 452.00 123.30C453.30 123.95 454.69 124.57 455.90 125.60C457.29 126.78 458.40 128.53 459.70 130.20C461.19 132.12 462.63 134.31 464.30 136.50C466.19 138.98 468.40 141.81 470.50 144.30C472.53 146.70 474.80 149.50 476.70 151.20C478.05 152.40 479.19 153.38 480.50 153.90C481.64 154.35 482.67 154.33 484.00 154.40C485.73 154.49 486.80 154.25 490.00 154.20C502.72 154.00 571.89 149.81 585.00 154.40C588.96 155.79 589.87 157.55 591.80 159.80C593.90 162.26 595.37 165.23 596.90 168.80C598.90 173.48 600.10 180.43 602.00 185.80C603.76 190.79 606.11 195.16 607.80 200.00C609.51 204.89 610.76 210.29 612.20 215.00C613.49 219.23 614.74 223.42 616.00 227.00C617.04 229.95 618.07 232.33 619.10 235.00" stroke="#6a28d8"/>
<path d="M417.30 205.00C417.33 186.67 417.03 162.84 417.40 150.00C417.60 143.07 416.95 136.95 418.30 134.00C418.95 132.58 420.00 131.64 421.00 131.40C421.92 131.18 422.94 131.84 424.00 132.30C425.34 132.88 426.84 134.08 428.30 134.80C429.71 135.50 430.95 136.18 432.60 136.60C434.66 137.12 437.19 137.11 439.80 137.30C442.90 137.53 446.81 137.64 450.00 137.80C452.83 137.94 455.23 138.25 458.00 138.20C461.01 138.15 463.89 137.82 467.40 137.40C471.91 136.86 477.77 135.83 482.80 135.00C487.63 134.20 492.35 133.31 497.00 132.50C501.48 131.72 505.68 131.08 510.20 130.20C515.00 129.26 520.45 127.95 525.00 127.00C528.88 126.19 532.21 125.53 535.80 124.80C539.38 124.07 542.92 123.23 546.50 122.60C550.08 121.97 553.71 121.60 557.30 121.00C560.88 120.40 564.91 119.85 568.00 119.00C570.47 118.32 572.08 117.10 574.50 116.60C577.35 116.01 581.01 116.36 584.10 116.10C587.00 115.85 589.58 115.55 592.50 115.10C595.72 114.61 599.90 114.25 602.60 113.20C604.65 112.41 606.36 111.58 607.60 110.10C608.93 108.51 609.49 106.03 610.10 103.80C610.75 101.44 610.81 97.75 611.30 96.30C611.52 95.66 611.73 95.80 612.00 95.00C613.79 89.69 618.73 52.07 622.10 30.60" stroke="#6a28d8"/>
<path d="M417.30 54.60C417.33 68.07 417.25 84.80 417.40 95.00C417.49 101.21 417.23 106.45 417.80 110.00C418.12 112.03 418.56 113.47 419.20 114.67C419.67 115.56 420.10 116.12 420.90 116.74C422.00 117.59 423.85 118.35 425.50 118.90C427.27 119.49 429.29 119.83 431.20 120.10C433.09 120.37 435.31 120.18 436.90 120.51C438.11 120.76 439.07 121.07 440.00 121.60C440.93 122.13 441.70 122.90 442.50 123.70C443.37 124.58 444.14 125.52 445.00 126.70C446.12 128.23 447.34 130.19 448.50 132.20C449.84 134.50 451.11 137.39 452.50 139.80C453.82 142.08 455.19 144.13 456.60 146.30C458.05 148.53 459.81 151.13 461.10 153.00C462.04 154.36 462.66 155.88 463.60 156.50C464.28 156.95 464.95 157.00 465.80 157.00C466.98 156.99 468.19 156.31 470.00 156.00C473.21 155.45 479.17 154.86 483.50 154.60C487.48 154.36 490.75 154.28 495.00 154.40C500.31 154.55 507.36 155.23 512.90 155.70C517.72 156.11 522.37 156.58 526.40 157.00C529.68 157.34 532.64 157.28 535.30 158.00C537.64 158.63 539.83 159.62 541.60 160.80C543.16 161.84 544.34 163.09 545.50 164.50C546.72 165.98 547.66 167.26 548.70 169.50C550.47 173.29 552.17 180.55 553.80 185.80C555.32 190.70 556.80 195.03 558.20 200.00C559.72 205.39 560.86 211.28 562.50 217.00C564.21 222.94 566.37 229.00 568.30 235.00" stroke="#40ea40"/>
<path d="M417.30 208.00C417.33 188.67 416.99 162.88 417.40 150.00C417.61 143.55 416.34 137.02 418.30 135.50C419.54 134.54 421.98 136.29 424.00 136.60C426.25 136.94 428.52 137.26 431.20 137.40C434.58 137.57 439.07 137.32 442.70 137.30C445.96 137.29 449.02 137.49 452.00 137.30C454.77 137.13 457.39 136.69 460.00 136.30C462.52 135.92 464.92 135.51 467.40 135.00C469.92 134.48 472.45 133.83 475.00 133.20C477.59 132.56 480.25 131.83 482.80 131.20C485.25 130.60 487.61 130.04 490.00 129.50C492.35 128.97 494.32 128.71 497.00 128.00C500.73 127.01 505.66 125.17 510.20 123.80C514.98 122.36 520.46 120.94 525.00 119.60C528.89 118.45 532.19 117.22 535.80 116.30C539.35 115.39 543.39 114.92 546.50 114.10C548.96 113.45 551.22 113.00 553.00 112.00C554.51 111.15 555.71 110.10 556.70 108.80C557.73 107.45 558.35 105.88 559.00 104.00C559.84 101.55 560.46 98.00 560.90 95.20C561.29 92.69 561.22 91.54 561.60 88.00C562.66 77.99 566.00 49.73 568.20 30.60" stroke="#40ea40"/>
<path d="M417.30 54.60C417.33 68.07 417.25 84.80 417.40 95.00C417.49 101.21 417.23 106.46 417.80 110.00C418.13 112.00 418.55 113.45 419.20 114.60C419.67 115.44 420.11 115.95 420.90 116.50C422.00 117.26 423.86 117.81 425.50 118.30C427.28 118.83 429.75 119.01 431.20 119.50C432.16 119.83 432.75 120.11 433.50 120.60C434.36 121.17 435.27 121.94 436.00 122.80C436.78 123.72 437.33 124.80 438.00 126.00C438.82 127.46 439.72 129.30 440.50 131.00C441.29 132.73 441.96 134.50 442.70 136.30C443.46 138.16 444.11 139.98 445.00 142.00C446.04 144.37 447.44 147.30 448.60 149.60C449.59 151.57 450.62 153.67 451.50 155.00C452.07 155.86 452.46 156.77 453.10 157.00C453.65 157.20 454.29 156.85 455.00 156.60C455.99 156.26 456.95 155.29 458.40 154.90C460.64 154.31 464.10 154.44 467.40 154.40C471.42 154.35 476.78 154.54 480.80 154.80C484.10 155.01 486.97 155.30 489.80 155.70C492.34 156.06 494.61 156.61 497.00 157.00C499.35 157.38 502.09 157.51 504.00 158.00C505.39 158.35 506.41 158.56 507.50 159.30C508.81 160.19 510.13 161.68 511.10 163.30C512.21 165.16 512.75 167.26 513.50 170.00C514.64 174.14 515.52 180.77 516.60 185.90C517.62 190.75 518.70 195.15 519.80 200.00C520.97 205.16 522.08 211.19 523.40 216.00C524.51 220.04 525.53 223.69 527.00 227.00C528.32 229.95 530.07 232.33 531.60 235.00" stroke="#e238e2"/>
<path d="M417.30 212.00C417.33 191.33 416.96 163.21 417.40 150.00C417.61 143.78 416.42 137.70 418.30 136.30C419.53 135.39 421.98 137.29 424.00 137.60C426.25 137.95 428.52 138.27 431.20 138.20C434.59 138.11 439.08 137.28 442.70 136.60C445.98 135.99 449.22 134.77 452.00 134.40C454.20 134.11 455.98 134.36 458.00 134.20C460.08 134.03 462.44 133.91 464.30 133.40C465.88 132.97 467.13 132.27 468.50 131.60C469.87 130.93 470.96 130.17 472.50 129.40C474.49 128.40 477.13 127.04 479.50 126.20C481.80 125.39 484.21 125.03 486.50 124.40C488.71 123.79 490.79 123.24 493.00 122.50C495.35 121.72 497.78 120.71 500.20 119.80C502.67 118.87 505.18 117.80 507.70 117.00C510.18 116.21 512.98 115.78 515.20 115.00C517.06 114.35 518.81 113.78 520.20 112.80C521.46 111.91 522.54 110.85 523.30 109.50C524.15 107.98 524.38 105.84 524.80 104.00C525.21 102.18 525.52 100.39 525.80 98.50C526.09 96.50 526.24 94.18 526.50 92.30C526.72 90.73 526.88 90.26 527.20 88.00C528.36 79.78 531.80 49.73 534.10 30.60" stroke="#e238e2"/>
</g>
<rect x="416.80" y="30.90" width="278.80" height="204.40" fill="none" stroke="#1e1e1e" stroke-width="1.7"/>
<path d="M412.30 30.90H416.80M414.30 51.34H416.80M412.30 71.78H416.80M414.30 92.22H416.80M412.30 112.66H416.80M414.30 133.10H416.80M412.30 153.54H416.80M414.30 173.98H416.80M412.30 194.42H416.80M414.30 214.86H416.80M412.30 235.30H416.80M416.80 235.30V240.10M440.03 235.30V237.90M463.27 235.30V240.10M486.50 235.30V237.90M509.73 235.30V240.10M532.97 235.30V237.90M556.20 235.30V240.10M579.43 235.30V237.90M602.67 235.30V240.10M625.90 235.30V237.90M649.13 235.30V240.10M672.37 235.30V237.90M695.60 235.30V240.10" stroke="#1e1e1e" stroke-width="1.5" fill="none"/>
<path d="M417.40 212.00V136.30M417.40 54.60V108.00" stroke="#e238e2" stroke-width="1.3" stroke-opacity="0.8" fill="none"/>
<text transform="translate(409.20,34.50) scale(0.95,1)" x="0" y="0" text-anchor="end" style="font-family:'Liberation Serif',serif;font-weight:bold;font-size:12.6px">3.0</text>
<text transform="translate(409.20,75.38) scale(0.95,1)" x="0" y="0" text-anchor="end" style="font-family:'Liberation Serif',serif;font-weight:bold;font-size:12.6px">2.7</text>
<text transform="translate(409.20,116.26) scale(0.95,1)" x="0" y="0" text-anchor="end" style="font-family:'Liberation Serif',serif;font-weight:bold;font-size:12.6px">2.4</text>
<text transform="translate(409.20,157.14) scale(0.95,1)" x="0" y="0" text-anchor="end" style="font-family:'Liberation Serif',serif;font-weight:bold;font-size:12.6px">2.1</text>
<text transform="translate(409.20,198.02) scale(0.95,1)" x="0" y="0" text-anchor="end" style="font-family:'Liberation Serif',serif;font-weight:bold;font-size:12.6px">1.8</text>
<text transform="translate(409.20,238.90) scale(0.95,1)" x="0" y="0" text-anchor="end" style="font-family:'Liberation Serif',serif;font-weight:bold;font-size:12.6px">1.5</text>
<text transform="translate(417.00,251.9) scale(0.95,1)" x="0" y="0" text-anchor="middle" style="font-family:'Liberation Serif',serif;font-weight:bold;font-size:12.6px">0</text>
<text transform="translate(463.47,251.9) scale(0.95,1)" x="0" y="0" text-anchor="middle" style="font-family:'Liberation Serif',serif;font-weight:bold;font-size:12.6px">200</text>
<text transform="translate(509.93,251.9) scale(0.95,1)" x="0" y="0" text-anchor="middle" style="font-family:'Liberation Serif',serif;font-weight:bold;font-size:12.6px">400</text>
<text transform="translate(556.40,251.9) scale(0.95,1)" x="0" y="0" text-anchor="middle" style="font-family:'Liberation Serif',serif;font-weight:bold;font-size:12.6px">600</text>
<text transform="translate(602.87,251.9) scale(0.95,1)" x="0" y="0" text-anchor="middle" style="font-family:'Liberation Serif',serif;font-weight:bold;font-size:12.6px">800</text>
<text transform="translate(649.33,251.9) scale(0.95,1)" x="0" y="0" text-anchor="middle" style="font-family:'Liberation Serif',serif;font-weight:bold;font-size:12.6px">1000</text>
<text transform="translate(695.80,251.9) scale(0.95,1)" x="0" y="0" text-anchor="middle" style="font-family:'Liberation Serif',serif;font-weight:bold;font-size:12.6px">1200</text>
<text transform="translate(556.20,274.2) scale(0.94,1)" x="0" y="0" text-anchor="middle" style="font-family:'Liberation Serif',serif;font-weight:bold;font-size:15px">Capacity (mAh/g)</text>
<text transform="translate(380.00,139) rotate(-90)" x="0" y="0" text-anchor="middle" style="font-family:'Liberation Serif',serif;font-weight:bold;font-size:15px">Voltage (V)</text>
<text x="368.0" y="18.5" style="font-family:'Liberation Sans',sans-serif;font-weight:bold;font-size:23px">b</text>
<path d="M633.90 122.20H659.50" stroke="#e02828" stroke-width="1.8"/>
<text transform="translate(664.80,126.50) scale(0.92,1)" x="0" y="0" style="font-family:'Liberation Serif',serif;font-weight:bold;font-size:11.5px">1 st</text>
<path d="M633.90 136.10H659.50" stroke="#2222c6" stroke-width="1.8"/>
<text transform="translate(664.80,140.40) scale(0.92,1)" x="0" y="0" style="font-family:'Liberation Serif',serif;font-weight:bold;font-size:11.5px">2 nd</text>
<path d="M633.90 150.00H659.50" stroke="#ee8040" stroke-width="1.8"/>
<text transform="translate(664.80,154.30) scale(0.92,1)" x="0" y="0" style="font-family:'Liberation Serif',serif;font-weight:bold;font-size:11.5px">3 rd</text>
<path d="M633.90 163.90H659.50" stroke="#6a28d8" stroke-width="1.8"/>
<text transform="translate(664.80,168.20) scale(0.92,1)" x="0" y="0" style="font-family:'Liberation Serif',serif;font-weight:bold;font-size:11.5px">10 th</text>
<path d="M633.90 177.80H659.50" stroke="#40ea40" stroke-width="1.8"/>
<text transform="translate(664.80,182.10) scale(0.92,1)" x="0" y="0" style="font-family:'Liberation Serif',serif;font-weight:bold;font-size:11.5px">50 th</text>
<path d="M633.90 191.70H659.50" stroke="#e238e2" stroke-width="1.8"/>
<text transform="translate(664.80,196.00) scale(0.92,1)" x="0" y="0" style="font-family:'Liberation Serif',serif;font-weight:bold;font-size:11.5px">100 th</text>
<path d="M557.00 127.00V148.60" stroke="#e02a2a" stroke-width="1.6"/>
<path d="M557.00 123.00L554.20 128.50L559.80 128.50Z M557.00 152.60L554.20 147.10L559.80 147.10Z" fill="#e02a2a"/>
<text transform="translate(567.90,146.40) scale(1.08,1)" x="0" y="0" style="font-family:'Liberation Sans',sans-serif;font-size:16.5px;fill:#e02828">ΔE</text>
</svg>
</body></html>
